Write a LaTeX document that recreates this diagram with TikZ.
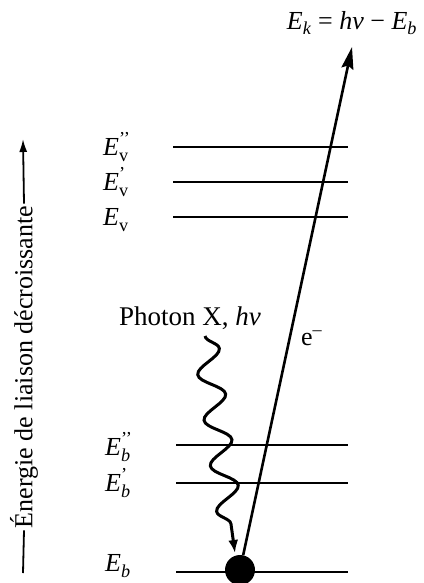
\documentclass[tikz,border=0pt]{standalone}
\usepackage{amsmath}
\usepackage{fontspec}
\setmainfont{Liberation Serif}
\usetikzlibrary{arrows.meta,decorations.pathmorphing}
\newcommand\Elev[2]{$\textit{E}^{\text{#2}}_{\text{#1}}$}
\begin{document}
\begin{tikzpicture}[x=1pt,y=-1pt,
  lab/.style={font=\fontsize{26}{30}\selectfont, anchor=base west, inner sep=0pt},
  levelline/.style={line width=1.7pt},
  eline/.style={line width=2.6pt, -{Stealth[length=22pt,width=12pt,inset=3pt]}},
  wave/.style={line width=3pt, decorate,
    decoration={snake, amplitude=12.5pt, segment length=46pt, post length=11pt},
    -{Latex[length=13pt,width=10pt]}},
  axisline/.style={line width=1.8pt}]
\useasboundingbox (0,0) rectangle (423,583);
% labels of levels
\node[lab] (lv2) at (103,155) {\Elev{v}{'{}'}};
\node[lab] (lv1) at (103,190) {\Elev{v}{'}};
\node[lab] (lv0) at (103,225) {\Elev{v}{}};
\node[lab] (lb2) at (105,455) {\Elev{\textit{b}}{'{}'}};
\node[lab] (lb1) at (105,491) {\Elev{\textit{b}}{'}};
\node[lab] (lb0) at (105,571) {\Elev{\textit{b}}{}};
% level lines
\coordinate (v2a) at (173,147); \coordinate (v2b) at (348,147);
\coordinate (v1a) at (173,182); \coordinate (v1b) at (348,182);
\coordinate (v0a) at (173,217); \coordinate (v0b) at (348,217);
\coordinate (b2a) at (176,445); \coordinate (b2b) at (348,445);
\coordinate (b1a) at (176,483); \coordinate (b1b) at (348,483);
\coordinate (b0a) at (176,572); \coordinate (b0b) at (348,572);
\draw[levelline] (v2a) -- (v2b);
\draw[levelline] (v1a) -- (v1b);
\draw[levelline] (v0a) -- (v0b);
\draw[levelline] (b2a) -- (b2b);
\draw[levelline] (b1a) -- (b1b);
\draw[levelline] (b0a) -- (b0b);
% core electron
\node[circle, fill=black, minimum size=30pt, inner sep=0pt] (core) at (240,570) {};
% ejected electron
\node[lab, anchor=base] (ek) at (352,30) {\textit{E}\textsubscript{\textit{k}} = \textit{hν} − \textit{E}\textsubscript{\textit{b}}};
\coordinate (etip) at (352,47);
\draw[eline] (core) -- (etip);
\node[lab] (elab) at (301,345) {e\textsuperscript{–}};
% photon
\node[lab, font=\fontsize{27}{30}\selectfont] (ph) at (119,325) {Photon X, \textit{hν}};
\coordinate (w0) at (205,336);
\coordinate (w1) at (235,553);
\draw[wave] (w0) -- (w1);
% axis
\node[rotate=90, font=\fontsize{26}{30}\selectfont, inner sep=2pt] (axis) at (24,367) {Énergie de liaison décroissante};
\coordinate (ax0) at (23,573);
\coordinate (ax1) at (23,139);
\draw[axisline] (ax0) -- (axis.west);
\draw[axisline, -{Latex[length=13pt,width=8pt]}] (axis.east) -- (ax1);
\end{tikzpicture}
\end{document}
